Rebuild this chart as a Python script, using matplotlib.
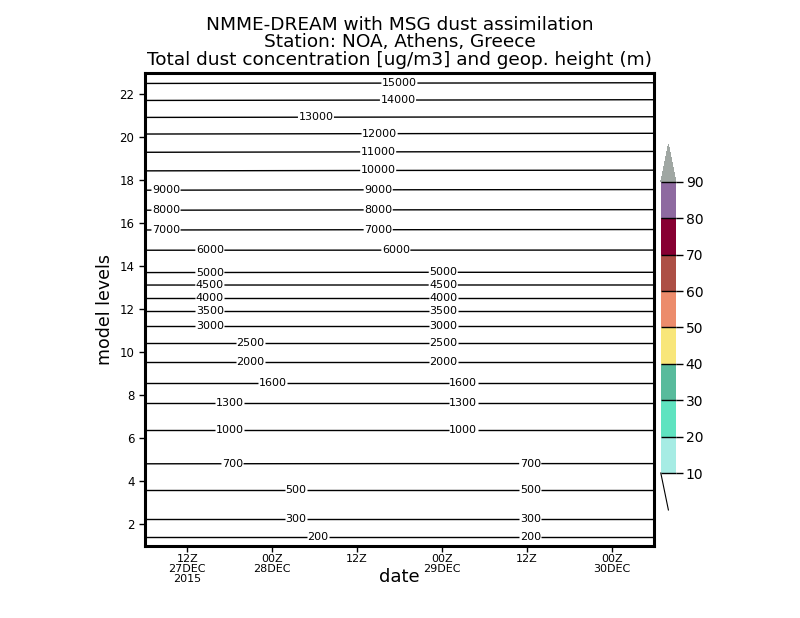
import matplotlib
matplotlib.use("Agg")
import matplotlib.pyplot as plt
import numpy as np
from matplotlib.colors import ListedColormap, BoundaryNorm

# temps (heures depuis 27DEC 00Z) et niveaux du modèle
heures = [6, 42, 78]
niveaux = list(range(1, 24))

# géopotentiel (m) à chaque niveau, début / milieu / fin de période
geop_debut = [150, 267, 407, 561, 730, 919, 1132, 1386, 1742, 2225, 2845,
              3557, 4383, 5245, 6245, 7330, 8418, 9483, 10643, 11795, 13089,
              14354, 15620]
geop_milieu = [150, 267, 407, 561, 728, 919, 1132, 1386, 1742, 2225, 2845,
               3557, 4383, 5230, 6245, 7310, 8400, 9460, 10620, 11770, 13070,
               14330, 15600]
geop_fin = [150, 267, 407, 561, 728, 919, 1132, 1386, 1742, 2225, 2845,
            3557, 4383, 5230, 6240, 7300, 8390, 9450, 10600, 11750, 13050,
            14310, 15580]

# isolignes du géopotentiel
iso_geop = [200, 300, 500, 700, 1000, 1300, 1600, 2000, 2500, 3000, 3500,
            4000, 4500, 5000, 6000, 7000, 8000, 9000, 10000, 11000, 12000,
            13000, 14000, 15000]

# position (heure) des étiquettes pour chaque isoligne
pos_etiquettes = {
    15000: [42], 14000: [41.8], 13000: [30.2], 12000: [39.2], 11000: [39],
    10000: [39], 9000: [9, 39], 8000: [9, 39], 7000: [9, 39],
    6000: [15.2, 41.5], 5000: [15.2, 48.2], 4500: [15.2, 48.2],
    4000: [15.2, 48.2], 3500: [15.2, 48.2], 3000: [15.2, 48.2],
    2500: [20.9, 48.2], 2000: [20.9, 48.2], 1600: [24.1, 51],
    1300: [18, 51], 1000: [18, 51], 700: [18.4, 60.5], 500: [27.4, 60.5],
    300: [27.4, 60.5], 200: [30.5, 60.5],
}

# échelle de couleurs de la concentration de poussière (ug/m3)
bornes_poussiere = [10, 20, 30, 40, 50, 60, 70, 80, 90]
couleurs_poussiere = ["#a6ece4", "#5fe3c0", "#58bb9c", "#f8e67a", "#ec8c6c",
                      "#ad4f45", "#870032", "#8e6aa0"]
couleur_min = "#ffffff"
couleur_max = "#a0a7a3"

# positions et libellés des dates
ticks_dates = [12, 24, 36, 48, 60, 72]
libelles_dates = ["12Z\n27DEC\n2015", "00Z\n28DEC", "12Z", "00Z\n29DEC",
                  "12Z", "00Z\n30DEC"]

# Création de la figure
fig = plt.figure(figsize=(8, 6.18), dpi=100)
ax = fig.add_axes([0.181, 0.1165, 0.6365, 0.7655])

T, L = np.meshgrid(heures, niveaux)
Z = np.array([geop_debut, geop_milieu, geop_fin]).T

cs = ax.contour(T, L, Z, levels=iso_geop, colors="black", linewidths=1.0)

# étiquettes placées comme dans l'original
manuel = []
for val, hs in pos_etiquettes.items():
    for h in hs:
        prof = [np.interp(h, heures, Z[i]) for i in range(len(niveaux))]
        manuel.append((h, np.interp(val, prof, niveaux)))
ax.clabel(cs, fmt="%d", fontsize=8, manual=manuel, inline=True,
          inline_spacing=0.5)

ax.set_xlim(6, 78)
ax.set_ylim(1, 23)
ax.set_yticks(range(2, 24, 2))
ax.set_xticks(ticks_dates)
ax.set_xticklabels(libelles_dates, fontsize=8, linespacing=0.95)
ax.tick_params(axis="y", labelsize=8.5, length=4, width=1)
ax.tick_params(axis="x", length=4, width=1, pad=2)
for s in ax.spines.values():
    s.set_linewidth(2.2)

ax.set_ylabel("model levels", fontsize=12.5, labelpad=4)
ax.set_xlabel("date", fontsize=13, labelpad=-11)

# Affichage du titre
ax.set_title("NMME-DREAM with MSG dust assimilation\n"
             "Station: NOA, Athens, Greece\n"
             "Total dust concentration [ug/m3] and geop. height (m)",
             fontsize=13.3, linespacing=0.95, pad=6)

# barre de couleurs
cmap = ListedColormap(couleurs_poussiere)
cmap.set_under(couleur_min)
cmap.set_over(couleur_max)
norm = BoundaryNorm(bornes_poussiere, cmap.N)
cax = fig.add_axes([0.826, 0.1748, 0.019, 0.5906])
sm = plt.cm.ScalarMappable(norm=norm, cmap=cmap)
cb = fig.colorbar(sm, cax=cax, extend="both", extendfrac=0.127,
                  ticks=bornes_poussiere, drawedges=True)
cb.outline.set_visible(False)
cb.dividers.set_linewidth(1.0)
cb.ax.tick_params(labelsize=10, length=5, width=1, pad=2)
# contour gauche du triangle inférieur (blanc)
cb.ax.plot([0, 0.5], [0, -0.127], transform=cb.ax.transAxes, color="black",
           lw=0.8, clip_on=False)

fig.savefig("out.png", dpi=100)
